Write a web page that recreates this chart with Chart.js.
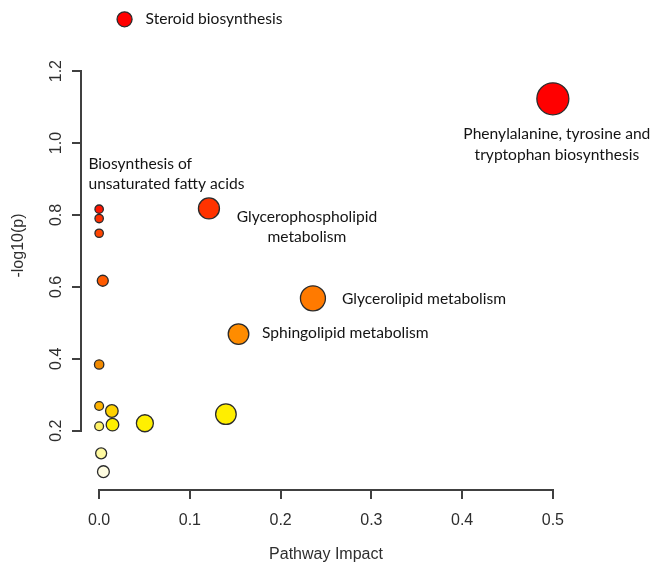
<!DOCTYPE html>
<html>
<head>
<meta charset="utf-8">
<script src="https://cdn.jsdelivr.net/npm/chart.js@4/dist/chart.umd.min.js"></script>
<style>
  html, body { margin: 0; padding: 0; background: #ffffff; }
  #wrap { width: 653px; height: 564px; }
</style>
</head>
<body>
<div id="wrap"><canvas id="c" width="653" height="564"></canvas></div>
<script>
// ---- data ----
const pathwayNames = [
  'Steroid biosynthesis',
  'Phenylalanine, tyrosine and tryptophan biosynthesis',
  'Biosynthesis of unsaturated fatty acids',
  '', 'Glycerophospholipid metabolism', '', '',
  'Glycerolipid metabolism', 'Sphingolipid metabolism',
  '', '', '', '', '', '', '', '', ''
];
const impact = [0.028, 0.500, 0.000, 0.000, 0.121, 0.000, 0.004, 0.2356, 0.1536, 0.000, 0.000, 0.014, 0.1397, 0.0504, 0.000, 0.0147, 0.0022, 0.0047];
const negLog10P = [1.344, 1.123, 0.816, 0.790, 0.818, 0.749, 0.617, 0.568, 0.4686, 0.384, 0.2686, 0.2547, 0.246, 0.2206, 0.2122, 0.2167, 0.137, 0.0861];
const bubbleSize = [7.5, 16, 4.2, 4.2, 10.5, 4.2, 5.5, 12.5, 10.3, 4.7, 4.4, 6.3, 10.3, 8.5, 4.4, 6.3, 5.5, 5.9];
const xTickLabels = [0.0, 0.1, 0.2, 0.3, 0.4, 0.5];
const yTickLabels = [0.2, 0.4, 0.6, 0.8, 1.0, 1.2];

// ---- styles ----
const fillColors = ['#FF0000', '#FF0000', '#FF1500', '#FF3000', '#FF3300', '#FF4500', '#FF5A00', '#FF7A00', '#FF8C00', '#F28A00', '#FFB300', '#FFD200', '#FFEE00', '#FFF000', '#FFF266', '#FFF000', '#FFFAA0', '#FFFDE2'];
const labelFont = '15.6px Lato';
const axisColor = '#404040';
const labelLayout = {
  0: { lines: ['Steroid biosynthesis'], dx: 21, dy: 0, align: 'left' },
  1: { lines: ['Phenylalanine, tyrosine and', 'tryptophan biosynthesis'], dx: 4, dy: 35, gap: 21, align: 'center' },
  2: { lines: ['Biosynthesis of', 'unsaturated fatty acids'], dx: -10.7, dy: -45.7, gap: 20, align: 'left' },
  4: { lines: ['Glycerophospholipid', 'metabolism'], dx: 98, dy: 8.4, gap: 20.6, align: 'center' },
  7: { lines: ['Glycerolipid metabolism'], dx: 29, dy: 0.7, align: 'left' },
  8: { lines: ['Sphingolipid metabolism'], dx: 23.4, dy: -1, align: 'left' }
};

const points = impact.map((x, i) => ({ x: x, y: negLog10P[i], r: bubbleSize[i] }));

const axisLinePlugin = {
  id: 'rAxisLines',
  afterDraw(chart) {
    const { ctx, chartArea, scales } = chart;
    const xs = scales.x, ys = scales.y;
    ctx.save();
    ctx.strokeStyle = axisColor;
    ctx.lineWidth = 2;
    ctx.lineCap = 'square';
    ctx.beginPath();
    const yb = Math.round(chartArea.bottom);
    ctx.moveTo(Math.round(xs.getPixelForValue(xTickLabels[0])), yb);
    ctx.lineTo(Math.round(xs.getPixelForValue(xTickLabels[xTickLabels.length - 1])), yb);
    const xl = Math.round(chartArea.left);
    ctx.moveTo(xl, Math.round(ys.getPixelForValue(yTickLabels[0])));
    ctx.lineTo(xl, Math.round(ys.getPixelForValue(yTickLabels[yTickLabels.length - 1])));
    ctx.stroke();
    ctx.restore();
  }
};

const labelPlugin = {
  id: 'pathwayLabels',
  afterDatasetsDraw(chart) {
    const { ctx } = chart;
    const meta = chart.getDatasetMeta(0);
    ctx.save();
    ctx.font = labelFont;
    ctx.fillStyle = '#141414';
    ctx.textBaseline = 'middle';
    Object.keys(labelLayout).forEach(k => {
      const i = +k;
      const L = labelLayout[i];
      const el = meta.data[i];
      if (!el) return;
      ctx.textAlign = L.align;
      L.lines.forEach((t, j) => {
        ctx.fillText(t, el.x + L.dx, el.y + L.dy + j * (L.gap || 0));
      });
    });
    ctx.restore();
  }
};

new Chart(document.getElementById('c'), {
  type: 'bubble',
  data: {
    datasets: [{
      label: '-log10(p)',
      data: points,
      backgroundColor: fillColors,
      borderColor: '#2b2b2b',
      borderWidth: 1.3,
      hoverRadius: 0,
      clip: false
    }]
  },
  plugins: [axisLinePlugin, labelPlugin],
  options: {
    responsive: false,
    animation: false,
    devicePixelRatio: 1,
    layout: { autoPadding: false, padding: { left: 0, right: 82, top: 1, bottom: 0 } },
    plugins: { legend: { display: false }, tooltip: { enabled: false } },
    scales: {
      x: {
        type: 'linear',
        min: -0.02,
        max: 0.52,
        afterFit(s) { s.height = 74; s.paddingLeft = 0; s.paddingRight = 0; },
        afterBuildTicks(s) { s.ticks = xTickLabels.map(v => ({ value: v })); },
        border: { display: false },
        grid: { drawOnChartArea: false, drawTicks: true, tickLength: 9, color: axisColor, lineWidth: 2 },
        ticks: {
          padding: 12,
          color: '#2e2e2e',
          font: { family: 'Liberation Sans', size: 16 },
          maxRotation: 0, minRotation: 0,
          callback: v => Number(v).toFixed(1)
        },
        title: {
          display: true,
          text: 'Pathway Impact',
          color: '#2e2e2e',
          font: { family: 'Liberation Sans', size: 16 },
          padding: { top: 0, bottom: 0 }
        }
      },
      y: {
        type: 'linear',
        min: 0.035,
        max: 1.395,
        afterFit(s) { s.width = 81; s.paddingTop = 0; s.paddingBottom = 0; },
        afterBuildTicks(s) { s.ticks = yTickLabels.map(v => ({ value: v })); },
        border: { display: false },
        grid: { drawOnChartArea: false, drawTicks: true, tickLength: 9, color: axisColor, lineWidth: 2 },
        ticks: {
          padding: 4,
          color: '#2e2e2e',
          font: { family: 'Liberation Sans', size: 16 },
          minRotation: 90, maxRotation: 90,
          crossAlign: 'center',
          callback: v => Number(v).toFixed(1)
        },
        title: {
          display: true,
          text: '-log10(p)',
          color: '#2e2e2e',
          font: { family: 'Liberation Sans', size: 16 },
          padding: { top: 9, bottom: 0 }
        }
      }
    }
  }
});
</script>
</body>
</html>
